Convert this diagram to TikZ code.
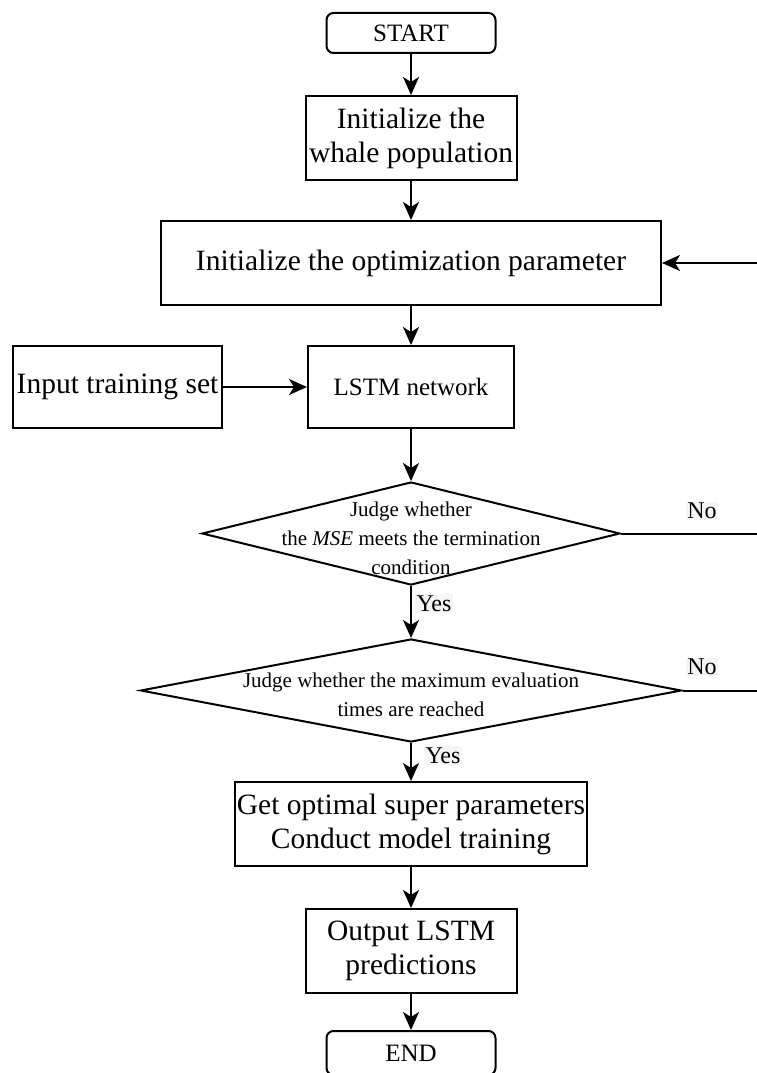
\documentclass[tikz,border=0pt]{standalone}
\usepackage{fontspec}
\setmainfont{Liberation Serif}
\usetikzlibrary{arrows.meta, shapes.geometric}

\begin{document}
\begin{tikzpicture}[
                    x=1pt, y=-1pt,
                    line/.style={line width=2pt},
                    arrow/.style={line, -{Stealth[length=18pt, width=16pt, inset=5pt]}},
                    box/.style={
                        draw, line, inner sep=0pt, align=center,
                        font=\fontsize{29.5}{34}\selectfont
                    },
                    term/.style={box, rounded corners=7pt, font=\fontsize{25}{28}\selectfont},
                    decision/.style={draw, line, diamond, inner sep=0pt},
                    dtext/.style={align=center, inner sep=0pt, font=\fontsize{21}{29}\selectfont},
                    yn/.style={fill=black!4, inner sep=1.5pt, font=\fontsize{24}{26}\selectfont}
                ]
                \useasboundingbox (0, 0) rectangle (757, 1073);
                \def\mx{411}

                \node[term, minimum width=169pt, minimum height=40pt] (start) at (\mx, 33) {START};
                \node[box, minimum width=211pt, minimum height=84pt] (whale) at (\mx, 138)
                    {Initialize the\\whale population};
                \node[box, minimum width=500pt, minimum height=84pt] (opt) at (\mx, 263)
                    {Initialize the optimization parameter};
                \node[box, minimum width=206pt, minimum height=82pt, font=\fontsize{25}{28}\selectfont] (lstm) at (\mx, 387)
                    {LSTM network};
                \node[box, minimum width=209pt, minimum height=82pt] (input) at (117.5, 387)
                    {Input training set};

                % decisions: empty diamonds, text laid over them
                \node[decision, minimum width=418pt, minimum height=103pt] (mse) at (\mx, 533.5) {};
                \node[dtext] (mse text) at (\mx, 538)
                    {Judge whether\\the \textit{MSE} meets the termination\\condition};
                \node[decision, minimum width=541pt, minimum height=103pt] (eval) at (\mx, 690.5) {};
                \node[dtext] (eval text) at (\mx, 694.5)
                    {Judge whether the maximum evaluation\\times are reached};

                \node[box, minimum width=352pt, minimum height=84pt] (best) at (\mx, 824)
                    {Get optimal super parameters\\Conduct model training};
                \node[box, minimum width=211pt, minimum height=84pt] (output) at (\mx, 951)
                    {Output LSTM\\predictions};
                \node[term, minimum width=169pt, minimum height=44pt] (end) at (\mx, 1053) {END};

                \coordinate (back opt) at (757, 263);
                \coordinate (back mse) at (757, 533.5);
                \coordinate (back eval) at (757, 690.5);

                \draw[arrow] (start) -- (whale);
                \draw[arrow] (whale) -- (opt);
                \draw[arrow] (opt) -- (lstm);
                \draw[arrow] (input) -- (lstm);
                \draw[arrow] (lstm) -- (mse.north);
                \draw[arrow] (mse.south) -- (eval.north)
                    node[yn, pos=0.34, right=3pt] (yes mse) {Yes};
                \draw[arrow] (eval.south) -- (best)
                    node[yn, pos=0.33, right=12pt] (yes eval) {Yes};
                \draw[arrow] (best) -- (output);
                \draw[arrow] (output) -- (end);

                \draw[line] (mse.east) -- (back mse);
                \draw[line] (eval.east) -- (back eval);
                \draw[arrow] (back opt) -- (opt);
                \node[yn] (no mse) at (702, 511) {No};
                \node[yn] (no eval) at (702, 667) {No};
            \end{tikzpicture}
\end{document}
